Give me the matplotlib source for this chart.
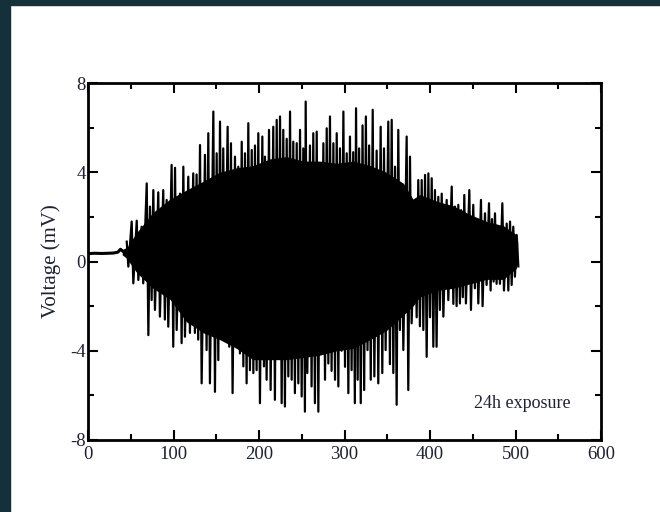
import numpy as np
import matplotlib.pyplot as plt
from matplotlib.patches import Rectangle
from matplotlib.ticker import MultipleLocator

plt.rcParams['font.family'] = ['Liberation Serif', 'DejaVu Serif']
plt.rcParams['axes.unicode_minus'] = False

# flat pre-signal baseline (time, mV)
base_t = [0, 8, 16, 24, 30, 35, 38, 41, 44]
base_v = [0.35, 0.37, 0.36, 0.37, 0.38, 0.42, 0.55, 0.45, 0.5]

# solid core of the burst envelope
core_t = [40, 45, 57, 76, 96, 115, 135, 154, 174, 193, 213, 232, 252, 271, 291,
          310, 330, 349, 369, 380, 388, 408, 427, 447, 466, 486, 501, 502.5]
core_hi = [0.5, 0.6, 1.3, 2.2, 2.8, 3.2, 3.6, 4.0, 4.2, 4.3, 4.6, 4.7, 4.5, 4.5,
           4.4, 4.5, 4.3, 4.0, 3.5, 2.8, 3.0, 2.7, 2.5, 2.1, 1.8, 1.6, 1.2, 0.9]
core_lo = [0.3, 0.15, -0.5, -1.2, -1.7, -2.7, -3.2, -3.5, -3.9, -4.4, -4.4,
           -4.4, -4.3, -4.2, -4.0, -3.9, -3.5, -3.1, -2.4, -2.0, -1.6, -1.3,
           -1.2, -1.0, -0.8, -0.8, -0.3, 0.0]

# individual oscillation peaks: time, positive peak, negative peak
peak_t = [45.3, 51.1, 57.0, 62.7, 68.7, 72.5, 76.4, 82.2, 88.0, 92.0, 97.8,
          101.8, 107.6, 111.5, 117.3, 123.1, 127.0, 131.0, 136.8, 140.7,
          146.6, 150.5, 154.4, 158.2, 163.3, 167.2, 171.9, 175.8, 179.8, 183.6,
          187.5, 191.5, 195.3, 199.2, 203.9, 207.0, 211.7, 216.7, 220.7, 224.6,
          228.4, 232.4, 236.3, 240.1, 244.1, 248.0, 251.8, 254.6, 259.6, 263.5,
          267.5, 271.4, 275.3, 279.2, 283.0, 287.0, 290.9, 294.7, 298.7, 302.6,
          306.4, 310.2, 313.5, 317.1, 321.1, 325.0, 328.8, 333.0, 337.6, 342.3,
          346.2, 351.2, 355.2, 359.1, 362.9, 366.9, 372.7, 376.6, 382.5, 386.3,
          390.3, 394.2, 398.1, 402.0, 405.8, 409.7, 413.7, 419.5, 425.4, 429.2,
          433.1, 436.5, 440.1, 446.0, 450.6, 454.6, 459.6, 464.3, 469.0, 472.5,
          476.0, 479.9, 484.6, 489.7, 493.6, 497.4, 501.4]
peak_hi = [0.89, 1.79, 1.83, 1.56, 3.5, 2.46, 3.2, 3.1, 3.2, 2.76, 4.33,
           4.2, 3.04, 4.25, 3.8, 3.95, 3.9, 5.22, 4.78, 5.75,
           6.72, 4.85, 6.27, 5.07, 6.04, 5.3, 4.7, 4.25, 5.37, 4.85,
           6.2, 5.0, 5.2, 5.75, 5.6, 4.7, 5.9, 6.04, 6.35, 6.5,
           5.9, 5.5, 6.72, 5.37, 5.3, 5.9, 5.07, 7.17, 5.2, 5.75,
           5.82, 4.25, 5.3, 5.97, 6.5, 5.3, 5.75, 5.07, 6.72, 4.85,
           5.6, 4.9, 6.87, 5.07, 6.1, 6.5, 5.2, 6.8, 4.97, 6.04,
           5.07, 6.27, 6.35, 4.25, 5.9, 3.06, 5.6, 4.7, 2.6, 3.65,
           3.65, 3.88, 3.95, 3.73, 3.2, 2.9, 3.04, 2.76, 3.36, 2.46,
           2.54, 2.3, 2.98, 3.2, 2.54, 1.83, 2.76, 2.16, 2.61, 1.9,
           2.16, 1.56, 2.61, 1.7, 1.79, 1.56, 1.19]
peak_lo = [-0.23, -0.98, -0.83, -0.98, -3.3, -1.73, -2.17, -2.47, -2.6, -2.92, -3.82,
           -3.07, -3.66, -3.37, -3.2, -3.2, -3.5, -5.46, -3.97, -5.46,
           -5.84, -4.42, -3.37, -3.07, -3.82, -5.9, -3.66, -4.12, -4.7, -5.46,
           -4.87, -5.0, -4.87, -6.35, -4.7, -5.3, -5.76, -6.2, -4.27, -6.35,
           -6.5, -5.15, -5.3, -5.9, -5.46, -6.05, -6.73, -5.0, -5.6, -6.35,
           -6.73, -3.82, -5.3, -4.57, -4.9, -5.3, -5.6, -4.0, -4.72, -5.9,
           -4.87, -6.35, -5.3, -6.35, -5.76, -3.97, -5.3, -5.15, -5.46, -5.0,
           -3.97, -4.6, -5.0, -6.42, -3.07, -3.97, -5.76, -2.77, -2.5, -2.9,
           -3.07, -4.27, -2.5, -3.82, -3.82, -2.17, -2.47, -1.73, -1.9, -2.0,
           -1.88, -1.6, -1.88, -2.17, -1.2, -1.88, -2.0, -1.05, -1.3, -0.9,
           -1.0, -1.0, -1.3, -1.3, -1.05, -0.68, -0.22]

fig = plt.figure(figsize=(6.6, 5.12), dpi=100)
fig.patches.append(Rectangle((0, 1 - 5 / 512), 1, 5 / 512, transform=fig.transFigure,
                             color='#14303a', zorder=0))
fig.patches.append(Rectangle((0, 0), 10 / 660, 1, transform=fig.transFigure,
                             color='#14303a', zorder=0))

ax = fig.add_axes([88 / 660, 1 - 440 / 512, (601 - 88) / 660, (440 - 83) / 512])

ax.plot(base_t, base_v, color='black', lw=2.2)
ax.fill_between(core_t, core_lo, core_hi, color='black', lw=0)

# oscillation strokes through the peaks
zz_t, zz_v = [], []
for t, hi, lo in zip(peak_t, peak_hi, peak_lo):
    zz_t += [t, t + 1.9]
    zz_v += [hi, lo]
ax.plot(zz_t, zz_v, color='black', lw=1.6)

ax.set_xlim(0, 600)
ax.set_ylim(-8, 8)
ax.xaxis.set_major_locator(MultipleLocator(100))
ax.xaxis.set_minor_locator(MultipleLocator(50))
ax.yaxis.set_major_locator(MultipleLocator(4))
ax.yaxis.set_minor_locator(MultipleLocator(2))
ax.tick_params(which='both', direction='in', top=True, right=True, width=1.5,
               labelsize=13.5, labelcolor='#1e2233')
ax.tick_params(which='major', length=7.5)
ax.tick_params(which='minor', length=4)
ax.tick_params(axis='x', pad=4)
ax.tick_params(axis='y', pad=1.5)
for s in ax.spines.values():
    s.set_linewidth(2)

ax.set_ylabel('Voltage (mV)', fontsize=15, color='#1e2233', labelpad=7)
ax.text(508, -6.35, '24h exposure', fontsize=13, color='#1e2233',
        ha='center', va='center')

fig.savefig('out.png', dpi=100)
